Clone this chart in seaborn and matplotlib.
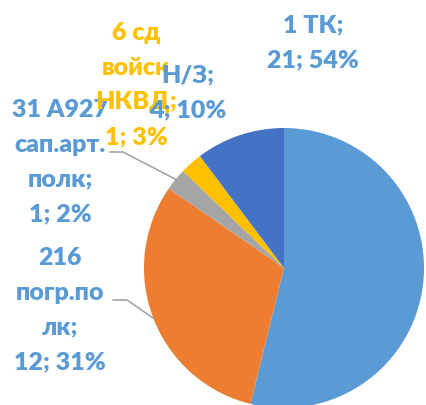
import matplotlib
matplotlib.use("Agg")
import matplotlib.pyplot as plt
import seaborn as sns
from matplotlib.lines import Line2D

# data
names = ["1 ТК", "216 погр.полк", "31 A927 сап.арт. полк", "6 сд войск НКВД", "Н/З"]
values = [21, 12, 1, 1, 4]
percents = ["54%", "31%", "2%", "3%", "10%"]
label_texts = [
    "1 ТК;\n21; 54%",
    "216\nпогр.по\nлк;\n12; 31%",
    "31 A927\nсап.арт.\nполк;\n1; 2%",
    "6 сд\nвойск\nНКВД;\n1; 3%",
    "Н/З;\n4; 10%",
]
colors = ["#5B9BD5", "#ED7D31", "#A5A5A5", "#FFC000", "#4472C4"]
label_colors = ["#5B9BD5", "#5B9BD5", "#5B9BD5", "#FFC000", "#5B9BD5"]

sns.set_theme(style="white")
plt.rcParams['font.family'] = ['Lato', 'DejaVu Sans']

W, H = 426, 405
fig = plt.figure(figsize=(W / 100, H / 100), dpi=100)
# pie centre ~ (284, 268) px, radius ~140 px
ax = fig.add_axes([144 / W, (H - 408) / H, 280 / W, 280 / H])
ax.pie(values, colors=sns.color_palette(colors), startangle=90, counterclock=False,
       radius=1, wedgeprops=dict(linewidth=0))
ax.set_xlim(-1, 1)
ax.set_ylim(-1, 1)
ax.axis("off")

# label centres in pixels (x, y from top)
label_pos = [(313, 43), (60, 310), (60, 162), (136, 85), (188, 93)]
for txt, (px, py), c in zip(label_texts, label_pos, label_colors):
    fig.text(px / W, 1 - py / H, txt, ha="center", va="center", color=c,
             fontsize=18, fontweight="heavy", linespacing=1.7)

# leader lines
def px_line(pts):
    xs = [p[0] / W for p in pts]
    ys = [1 - p[1] / H for p in pts]
    fig.add_artist(Line2D(xs, ys, color="#A6A6A6", lw=1.2, transform=fig.transFigure))

px_line([(110, 152), (123, 152), (177, 180)])
px_line([(113, 300), (127, 300), (153, 318)])

fig.savefig("out.png", dpi=100)
